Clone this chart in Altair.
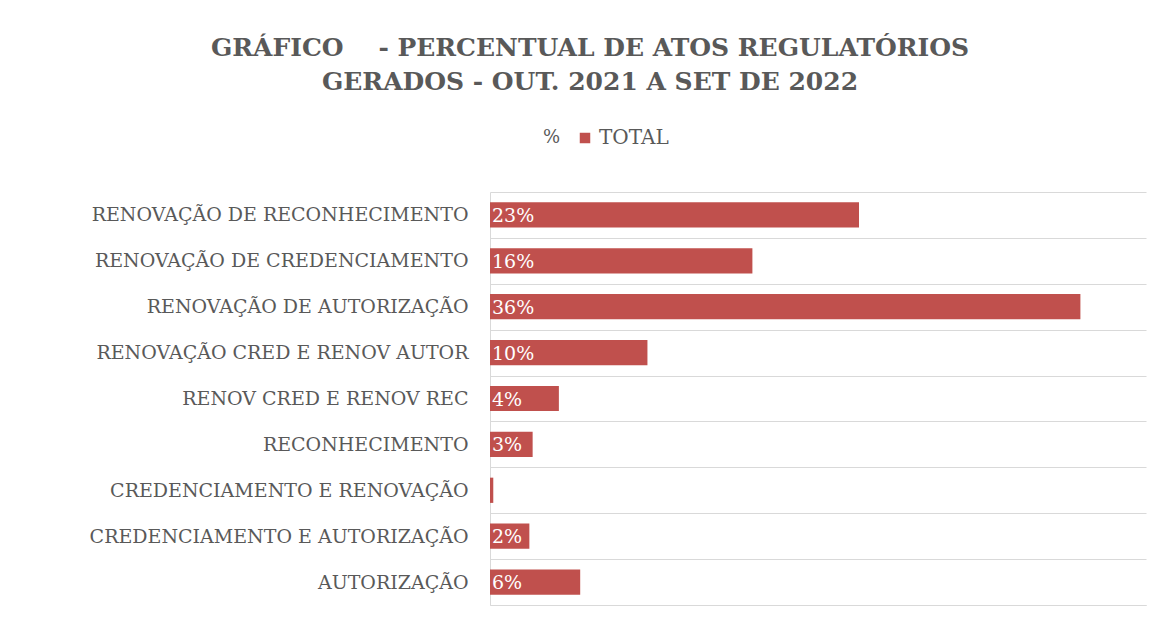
import altair as alt
import pandas as pd

categories = [
    "RENOVAÇÃO DE RECONHECIMENTO",
    "RENOVAÇÃO DE CREDENCIAMENTO ",
    "RENOVAÇÃO DE AUTORIZAÇÃO",
    "RENOVAÇÃO CRED E RENOV AUTOR",
    "RENOV CRED E RENOV REC",
    "RECONHECIMENTO",
    "CREDENCIAMENTO E RENOVAÇÃO",
    "CREDENCIAMENTO E AUTORIZAÇÃO",
    "AUTORIZAÇÃO",
]
values = [22.5, 16.0, 36.0, 9.6, 4.2, 2.6, 0.2, 2.4, 5.5]
labels = ["23%", "16%", "36%", "10%", "4%", "3%", "", "2%", "6%"]
series_name = "TOTAL"

df = pd.DataFrame({"cat": categories, "val": values, "lab": labels, "serie": series_name})

RED = "#C0504D"
GRAY = "#595959"
LINE = "#D9D9D9"
FONT = "DejaVu Serif"

y_enc = alt.Y(
    "cat:N",
    sort=categories,
    scale=alt.Scale(paddingInner=0, paddingOuter=0),
    axis=alt.Axis(
        title=None,
        grid=True,
        tickBand="extent",
        gridColor=LINE,
        gridWidth=1,
        domain=True,
        domainColor=LINE,
        ticks=False,
        tickSize=0,
        labelPadding=22,
        labelLimit=500,
        labelFont=FONT,
        labelFontSize=19,
        labelColor=GRAY,
    ),
)

x_enc = alt.X(
    "val:Q",
    scale=alt.Scale(domain=[0, 40], nice=False),
    axis=alt.Axis(
        title=None, labels=False, ticks=False, grid=False,
        domain=True, domainColor=LINE,
    ),
)

bars = alt.Chart(df).mark_bar(height={"band": 0.55}).encode(
    x=x_enc,
    y=y_enc,
    color=alt.Color(
        "serie:N",
        scale=alt.Scale(range=[RED]),
        legend=alt.Legend(
            title="%",
            titleOrient="left",
            orient="none",
            legendX=53,
            legendY=-64,
            symbolType="square",
            symbolSize=110,
            titleFont=FONT,
            titleFontSize=18,
            titleFontWeight="normal",
            titleColor=GRAY,
            titlePadding=14,
            labelFont=FONT,
            labelFontSize=20,
            labelColor=GRAY,
            labelOffset=4,
        ),
    ),
)

texts = alt.Chart(df).mark_text(
    align="left", baseline="middle", dx=2, dy=1,
    font=FONT, fontSize=19, color="white",
).encode(
    x=alt.datum(0),
    y=alt.Y("cat:N", sort=categories),
    text="lab:N",
)

chart = alt.layer(bars, texts).properties(
    width=656,
    height=413,
    padding={"left": 482, "top": 184, "right": 10, "bottom": 15},
    autosize=alt.AutoSizeParams(type="none"),
    title=alt.TitleParams(
        text=["GRÁFICO\u00a0\u00a0\u00a0\u00a0- PERCENTUAL DE ATOS REGULATÓRIOS",
              "GERADOS - OUT. 2021 A SET DE 2022"],
        anchor="middle",
        font=FONT,
        fontSize=25,
        fontWeight="bold",
        color=GRAY,
        lineHeight=34,
        offset=33,
        dx=-228,
    ),
).configure(background="white").configure_view(stroke="transparent")

chart.save("out.html", embed_options={"renderer": "svg", "actions": False})
